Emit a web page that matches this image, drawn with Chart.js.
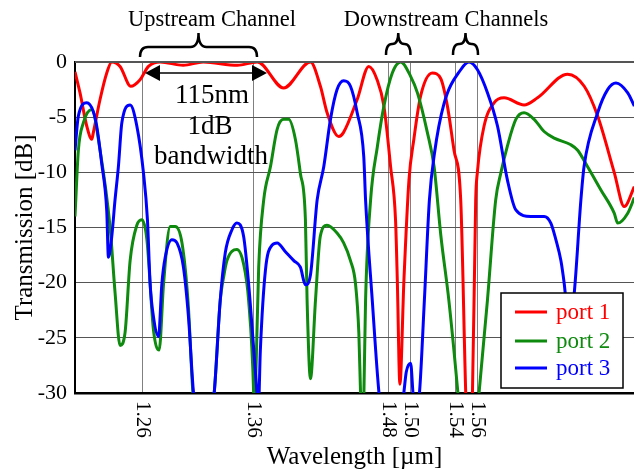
<!DOCTYPE html>
<html>
<head>
<meta charset="utf-8">
<script src="https://cdn.jsdelivr.net/npm/chart.js@4.4.0/dist/chart.umd.min.js"></script>
<style>
  html, body { margin: 0; padding: 0; background: #fff; }
</style>
</head>
<body>
<canvas id="chart" width="634" height="472"></canvas>
<script>
// wavelength [um] and transmission [dB]
const wl1 = [1.200,1.2045,1.2105,1.2150,1.2164,1.2224,1.2284,1.2329,1.2403,1.2499,1.2582,1.2657,1.2762,1.2968,1.3147,1.3452,1.3631,1.3866,1.4106,1.4195,1.4255,1.4359,1.4401,1.4524,1.4628,1.4702,1.4763,1.4823,1.4867,1.4883,1.4906,1.4942,1.4987,1.5031,1.5091,1.5196,1.5271,1.5331,1.5390,1.5450,1.5495,1.5510,1.5555,1.5584,1.5599,1.5659,1.5748,1.5838,1.6017,1.6137,1.6406,1.6555,1.6675,1.6823,1.6913,1.7003];
const port1 = [-0.9,-2.8,-5.8,-7.0,-6.4,-3.4,-1.0,0,-0.4,-2.2,-1.6,-0.4,0,-0.3,0,-0.3,0,-2.35,0,-2.2,-4.6,-6.75,-6.4,-3.4,-0.4,-1.6,-4,-9.5,-14.3,-19.8,-29.2,-19.8,-10.7,-7,-3.1,-1.0,-1.5,-4,-8,-12.5,-30,-34,-30,-12.5,-10,-5.8,-3.7,-3.25,-3.9,-3.25,-1.1,-2.2,-4.9,-10,-13.1,-11.3];

const wl2 = [1.200,1.2030,1.2075,1.2150,1.2224,1.2314,1.2359,1.2403,1.2448,1.2493,1.2553,1.2598,1.2643,1.2702,1.2753,1.2792,1.2852,1.2897,1.2957,1.3013,1.3055,1.3150,1.3245,1.3299,1.3329,1.3359,1.3448,1.3508,1.3553,1.3598,1.3606,1.3613,1.3643,1.3688,1.3748,1.3808,1.3866,1.3911,1.3971,1.4016,1.4061,1.4076,1.4106,1.4151,1.4194,1.4254,1.4344,1.4403,1.4464,1.4509,1.4539,1.4554,1.4569,1.4584,1.4599,1.4644,1.4704,1.4763,1.4838,1.4913,1.5002,1.5063,1.5152,1.5212,1.5272,1.5344,1.5425,1.5510,1.5614,1.5689,1.5763,1.5808,1.5868,1.5943,1.6017,1.6107,1.6196,1.6286,1.6435,1.6496,1.6585,1.6704,1.6823,1.6854,1.6944,1.7003];
const port2 = [-14,-8,-5.5,-4.3,-8,-15,-21,-25.7,-24.5,-18,-14.8,-14.3,-16.1,-24.3,-26.1,-20.1,-14.9,-14.9,-16.4,-22,-30,-36,-30,-21.6,-19.5,-18,-17,-18.3,-21.6,-30,-34,-30,-18.6,-12.5,-9.5,-6.1,-5.2,-5.2,-7,-10.1,-14.3,-21.6,-28.7,-21.6,-15.8,-14.8,-15.5,-16.4,-18,-20.1,-24.6,-30,-34,-30,-21.6,-12.5,-7.7,-4,-1,0,-1.3,-2.8,-6.4,-9.5,-15.7,-21.6,-30,-40,-30,-21.6,-12.5,-10.1,-7.6,-5.2,-4.6,-5.2,-6.3,-6.9,-7.5,-8,-9.5,-11.6,-13.7,-14.6,-13.7,-12.3];

const wl3 = [1.200,1.2030,1.2105,1.2164,1.2194,1.2239,1.2284,1.2299,1.2329,1.2358,1.2388,1.2419,1.2493,1.2553,1.2613,1.2648,1.2672,1.2702,1.2747,1.2777,1.2807,1.2867,1.2912,1.2970,1.3015,1.3060,1.3150,1.3245,1.3299,1.3344,1.3404,1.3448,1.3508,1.3553,1.3628,1.3640,1.3658,1.3703,1.3763,1.3808,1.3882,1.3957,1.4016,1.4061,1.4106,1.4166,1.4225,1.4285,1.4344,1.4403,1.4464,1.4524,1.4583,1.4599,1.4659,1.4719,1.4830,1.4941,1.4963,1.5002,1.5023,1.5040,1.5081,1.5125,1.5170,1.5215,1.5300,1.5450,1.5524,1.5600,1.5690,1.5779,1.5868,1.5943,1.6077,1.6196,1.6256,1.6301,1.6346,1.6376,1.6420,1.6465,1.6525,1.6553,1.6675,1.6764,1.6839,1.6944,1.7003];
const port3 = [-8,-4.9,-3.7,-4.5,-5.8,-9.2,-13.5,-17.7,-15.8,-12.5,-9.5,-5.5,-3.9,-5.8,-10.1,-14.3,-20.1,-23.1,-24.9,-20.1,-17.7,-16.1,-16.4,-18.6,-23.1,-30,-36,-30,-21.6,-17.3,-15.2,-14.6,-15.8,-20.1,-30,-31.5,-26.1,-18.9,-16.6,-16.4,-17.2,-18,-18.6,-20.2,-19.3,-12.5,-9.5,-5.2,-2.5,-1.7,-2.2,-4.6,-8.6,-12.5,-21.6,-30,-38,-30,-28.1,-27.3,-30,-32,-30,-21.6,-12.5,-8.3,-3.8,-0.7,0,-0.7,-2.8,-5.8,-10.7,-13.4,-14,-14,-14.6,-16.1,-18,-20.1,-24,-21,-12.5,-9.5,-4.6,-2.5,-1.9,-2.8,-4];

const xTicks = [1.26, 1.36, 1.48, 1.50, 1.54, 1.56];
const xTickLabels = ['1.26', '1.36', '1.48', '1.50', '1.54', '1.56'];
const seriesNames = ['port 1', 'port 2', 'port 3'];
const seriesColors = ['#ff0000', '#0e8a0e', '#0000ff'];

const serif = '"Liberation Serif", "Times New Roman", serif';
const toPoints = (xs, ys) => xs.map((x, i) => ({x: x, y: ys[i]}));

// braces, arrow, notes, rotated x labels, top frame line
const annotate = {
  id: 'annotate',
  afterDatasetsDraw(chart) {
    const ctx = chart.ctx;
    // legend box (drawn over the curves)
    ctx.save();
    ctx.fillStyle = '#fff';
    ctx.fillRect(501, 293, 122, 95);
    ctx.strokeStyle = '#000';
    ctx.lineWidth = 1.5;
    ctx.strokeRect(501, 293, 122, 95);
    const ly = [312, 341, 368];
    ctx.font = '23px ' + serif;
    ctx.textBaseline = 'middle';
    ctx.textAlign = 'left';
    seriesNames.forEach((n, i) => {
      ctx.strokeStyle = seriesColors[i];
      ctx.lineWidth = 3;
      ctx.beginPath();
      ctx.moveTo(515, ly[i]);
      ctx.lineTo(547, ly[i]);
      ctx.stroke();
      ctx.fillStyle = seriesColors[i];
      ctx.fillText(n, 556, ly[i] + 1);
    });
    ctx.restore();
  },
  afterDraw(chart) {
    const ctx = chart.ctx;
    const a = chart.chartArea;
    const xs = chart.scales.x;
    ctx.save();
    ctx.strokeStyle = '#555';
    ctx.lineWidth = 2;
    ctx.beginPath();
    ctx.moveTo(a.left, a.top);
    ctx.lineTo(a.right, a.top);
    ctx.stroke();

    // x tick labels, turned clockwise
    ctx.fillStyle = '#000';
    ctx.font = '21px ' + serif;
    ctx.textAlign = 'left';
    ctx.textBaseline = 'middle';
    xTicks.forEach((v, i) => {
      ctx.save();
      ctx.translate(xs.getPixelForValue(v), a.bottom + 8);
      ctx.rotate(Math.PI / 2);
      ctx.fillText(xTickLabels[i], 0, 0);
      ctx.restore();
    });

    // braces
    const brace = (x1, x2, yb, ym, yt, r) => {
      const xc = (x1 + x2) / 2;
      ctx.beginPath();
      ctx.moveTo(x1, yb);
      ctx.quadraticCurveTo(x1, ym, x1 + r, ym);
      ctx.lineTo(xc - r, ym);
      ctx.quadraticCurveTo(xc, ym, xc, yt);
      ctx.quadraticCurveTo(xc, ym, xc + r, ym);
      ctx.lineTo(x2 - r, ym);
      ctx.quadraticCurveTo(x2, ym, x2, yb);
      ctx.stroke();
    };
    ctx.strokeStyle = '#000';
    ctx.lineWidth = 2.5;
    brace(140, 257, 57, 47, 33, 8);
    brace(386, 410.5, 55, 44, 33, 6);
    brace(453, 478, 55, 44, 33, 6);

    // double arrow
    ctx.lineWidth = 1.5;
    ctx.beginPath();
    ctx.moveTo(158, 73);
    ctx.lineTo(254, 73);
    ctx.stroke();
    ctx.fillStyle = '#000';
    ctx.beginPath();
    ctx.moveTo(145, 73); ctx.lineTo(160, 65); ctx.lineTo(160, 81); ctx.closePath();
    ctx.fill();
    ctx.beginPath();
    ctx.moveTo(267, 73); ctx.lineTo(252, 65); ctx.lineTo(252, 81); ctx.closePath();
    ctx.fill();

    // notes
    ctx.textAlign = 'center';
    ctx.textBaseline = 'alphabetic';
    ctx.font = '22.5px ' + serif;
    ctx.fillText('Upstream Channel', 212, 26);
    ctx.fillText('Downstream Channels', 446, 26);
    ctx.font = '27px ' + serif;
    ctx.fillText('115nm', 212, 103);
    ctx.fillText('1dB', 210, 134);
    ctx.fillText('bandwidth', 211, 164);
    ctx.restore();
  }
};

new Chart(document.getElementById('chart'), {
  type: 'line',
  data: {
    datasets: [
      {label: seriesNames[0], data: toPoints(wl1, port1), borderColor: seriesColors[0], order: 3},
      {label: seriesNames[1], data: toPoints(wl2, port2), borderColor: seriesColors[1], order: 2},
      {label: seriesNames[2], data: toPoints(wl3, port3), borderColor: seriesColors[2], order: 1}
    ]
  },
  options: {
    responsive: false,
    animation: false,
    layout: {padding: {top: 62, right: 0, left: 0, bottom: 0}},
    elements: {
      point: {radius: 0},
      line: {borderWidth: 3, cubicInterpolationMode: 'monotone', fill: false}
    },
    datasets: {line: {clip: 0}},
    plugins: {legend: {display: false}, tooltip: {enabled: false}},
    scales: {
      x: {
        type: 'linear',
        min: 1.2,
        max: 1.7,
        afterBuildTicks: s => { s.ticks = xTicks.map(v => ({value: v})); },
        afterFit: s => { s.height = 79; },
        ticks: {display: false},
        grid: {color: '#808080', lineWidth: 1, drawTicks: false},
        border: {color: '#000', width: 2.5},
        title: {display: true, text: 'Wavelength [µm]', color: '#000',
                font: {family: serif, size: 25}, padding: {top: 2, bottom: 0}}
      },
      y: {
        min: -30,
        max: 0,
        afterFit: s => { s.width = 75; },
        ticks: {stepSize: 5, color: '#000', padding: 8, font: {family: serif, size: 22}},
        grid: {color: '#555', lineWidth: 1, drawTicks: false},
        border: {color: '#000', width: 2},
        title: {display: true, text: 'Transmission [dB]', color: '#000',
                font: {family: serif, size: 25}, padding: {top: 10, bottom: 0}}
      }
    }
  },
  plugins: [annotate]
});
</script>
</body>
</html>
